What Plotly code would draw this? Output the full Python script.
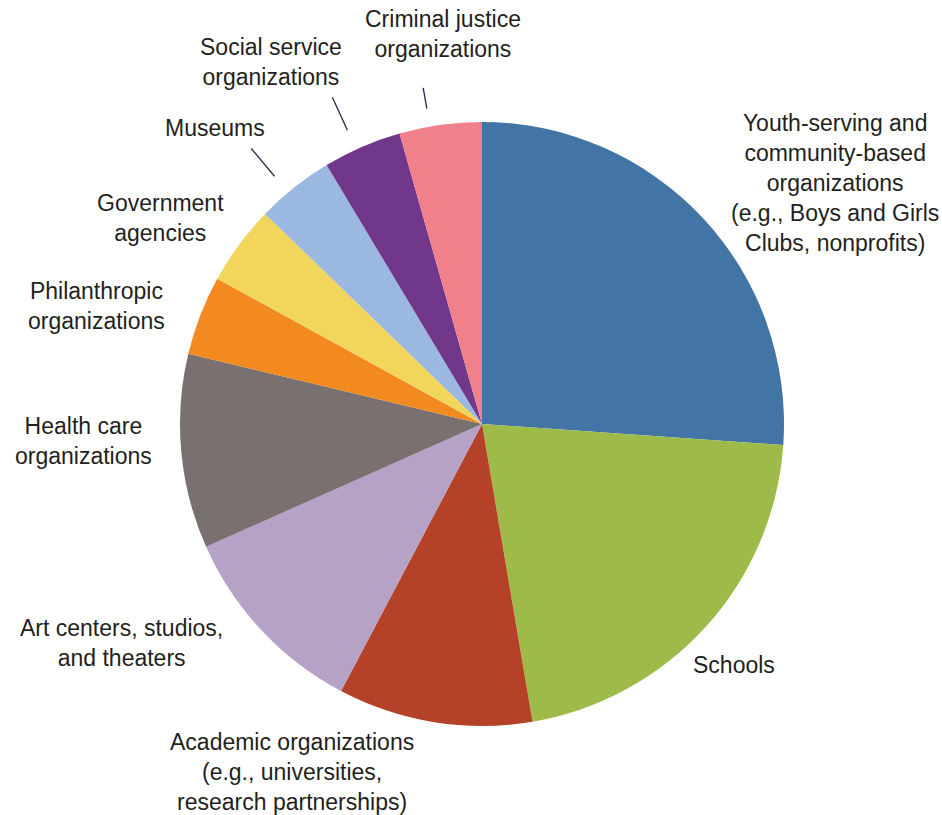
import math
import plotly.graph_objects as go

# ---- data ----
categories = [
    "Youth-serving and community-based organizations (e.g., Boys and Girls Clubs, nonprofits)",
    "Schools",
    "Academic organizations (e.g., universities, research partnerships)",
    "Art centers, studios, and theaters",
    "Health care organizations",
    "Philanthropic organizations",
    "Government agencies",
    "Museums",
    "Social service organizations",
    "Criminal justice organizations",
]
values = [26.1, 21.2, 10.4, 10.6, 10.4, 4.25, 4.25, 4.15, 4.2, 4.4]
label_text = [
    "Youth-serving and<br>community-based<br>organizations<br>(e.g., Boys and Girls<br>Clubs, nonprofits)",
    "Schools",
    "Academic organizations<br>(e.g., universities,<br>research partnerships)",
    "Art centers, studios,<br>and theaters",
    "Health care<br>organizations",
    "Philanthropic<br>organizations",
    "Government<br>agencies",
    "Museums",
    "Social service<br>organizations",
    "Criminal justice<br>organizations",
]
colors = ["#4274A5", "#9EBB4A", "#B54128", "#B5A2C6", "#787170",
          "#F28A20", "#F2D65C", "#9AB8E0", "#70378A", "#F08089"]

# ---- layout ----
W, H = 942, 815
CX, CY, R = 482, 424, 302
# label centres in pixels (layout only)
label_pos = [(835, 183), (734, 665), (292, 772), (121, 643), (83, 441),
             (96, 306), (160, 218), (215, 128), (271, 62), (443, 34)]
# leader lines: (index, angle offset deg, inner radius factor, outer radius factor)
leaders = [(7, -1.5, 1.07, 1.19), (8, -1.2, 1.07, 1.19), (9, -2.0, 1.06, 1.13)]

fig = go.Figure(go.Pie(
    labels=categories, values=values, sort=False, direction="clockwise",
    rotation=0, marker=dict(colors=colors, line=dict(width=0)),
    textinfo="none", hoverinfo="label+percent", showlegend=False,
    domain=dict(x=[(CX - R) / W, (CX + R) / W],
                y=[1 - (CY + R) / H, 1 - (CY - R) / H]),
))

total = sum(values)
cum = 0
mids = []
for v in values:
    mids.append((cum + v / 2) / total * 2 * math.pi)
    cum += v

annotations = []
for txt, (px, py) in zip(label_text, label_pos):
    annotations.append(dict(
        text=txt, x=px / W, y=1 - py / H, xref="paper", yref="paper",
        xanchor="center", yanchor="middle", align="center", showarrow=False,
        font=dict(family="Liberation Sans, Arial, Helvetica, sans-serif",
                  size=23, color="#231F20"),
    ))

shapes = []
for i, off, r0, r1 in leaders:
    a = mids[i] + math.radians(off)
    x0 = CX + r0 * R * math.sin(a)
    y0 = CY - r0 * R * math.cos(a)
    x1 = CX + r1 * R * math.sin(a)
    y1 = CY - r1 * R * math.cos(a)
    shapes.append(dict(type="line", xref="paper", yref="paper",
                       x0=x0 / W, y0=1 - y0 / H, x1=x1 / W, y1=1 - y1 / H,
                       line=dict(color="#1F2A44", width=1.3)))

fig.update_layout(
    width=W, height=H, margin=dict(l=0, r=0, t=0, b=0),
    paper_bgcolor="white", plot_bgcolor="white",
    annotations=annotations, shapes=shapes,
)
fig.write_html("out.html")
